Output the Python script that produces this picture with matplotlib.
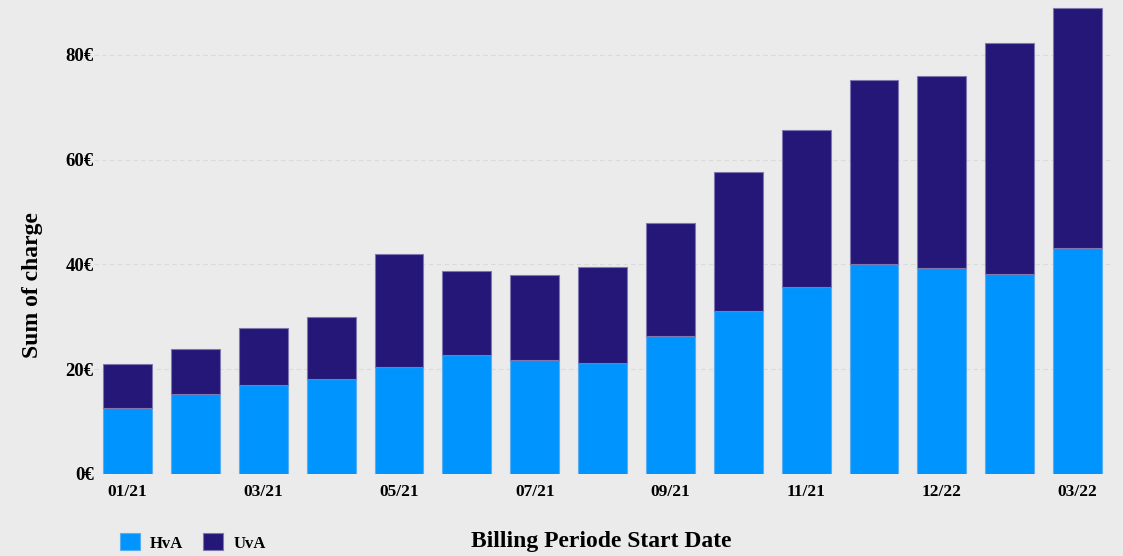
import matplotlib
matplotlib.use("Agg")
import matplotlib.pyplot as plt
import numpy as np

categories = ["01/21", "02/21", "03/21", "04/21", "05/21", "06/21", "07/21", "08/21",
              "09/21", "10/21", "11/21", "12/21", "12/22", "01/22", "03/22"]
tick_labels = ["01/21", "", "03/21", "", "05/21", "", "07/21", "",
               "09/21", "", "11/21", "", "12/22", "", "03/22"]
hva = [12.6, 15.3, 16.9, 18.1, 20.4, 22.7, 21.8, 21.2, 26.4, 31.1, 35.7, 40.1, 39.3, 38.2, 43.1]
uva_total = [21.0, 23.8, 27.9, 30.0, 42.0, 38.8, 38.0, 39.5, 47.9, 57.7, 65.6, 75.2, 75.9, 82.2, 89.0]
uva = [t - h for t, h in zip(uva_total, hva)]

BG = "#EBEBEB"
C_HVA = "#0094FF"
C_UVA = "#241778"
plt.rcParams["font.family"] = ["Liberation Serif", "DejaVu Serif"]

fig = plt.figure(figsize=(11.23, 5.56), dpi=100, facecolor=BG)
ax = fig.add_axes([0.0834, 0.1475, 0.9063, 0.8525], facecolor=BG)

x = np.arange(len(categories))
ax.bar(x, hva, width=0.72, color=C_HVA, edgecolor="#5aaef0", linewidth=0.8, label="HvA", zorder=3)
ax.bar(x, uva, bottom=hva, width=0.72, color=C_UVA, edgecolor="#7f78b0", linewidth=0.8, label="UvA", zorder=3)

ax.set_xlim(-0.5, len(categories) - 0.5)
ax.set_ylim(0, 90.5)
ax.set_yticks([0, 20, 40, 60, 80])
ax.set_yticklabels(["0€", "20€", "40€", "60€", "80€"], fontsize=13.5, fontweight="bold")
ax.set_xticks(x)
ax.set_xticklabels(tick_labels, fontsize=12.5, fontweight="bold")
ax.tick_params(axis="both", length=0)
ax.tick_params(axis="y", pad=0)
ax.tick_params(axis="x", pad=7)
ax.yaxis.grid(True, color="#dadada", linestyle=(0, (4, 3)), linewidth=0.8, zorder=0)
ax.xaxis.grid(False)
for s in ax.spines.values():
    s.set_visible(False)

fig.text(33 / 1123, 1 - 285 / 556, "Sum of charge", rotation=90, ha="center", va="center",
         fontsize=17, fontweight="bold")
fig.text(0.535, 1 - 541 / 556, "Billing Periode Start Date", ha="center", va="center",
         fontsize=17, fontweight="bold")

fig.legend(loc="lower left", bbox_to_anchor=(0.0935, -0.019), ncol=2, frameon=False,
           handlelength=1.2, handleheight=1.2, handletextpad=0.6, columnspacing=1.2,
           prop={"weight": "bold", "size": 12})

fig.savefig("out.png", dpi=100, facecolor=BG)
